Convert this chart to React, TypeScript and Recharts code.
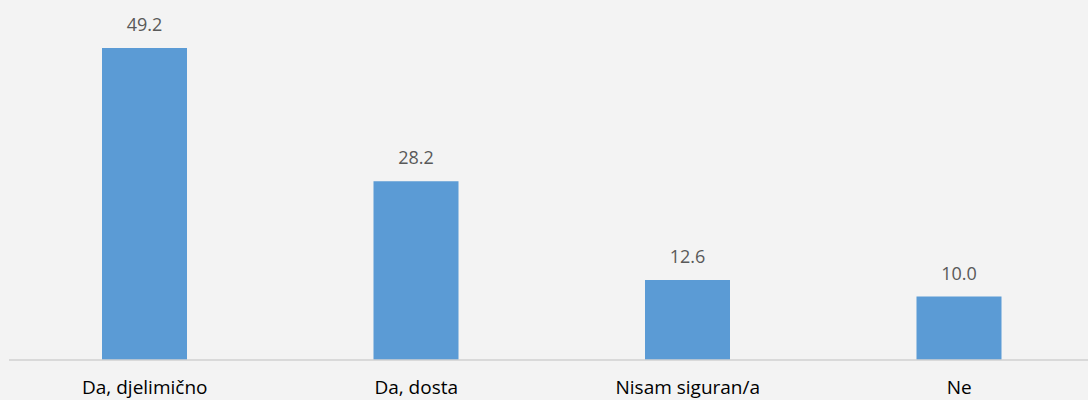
import { BarChart, Bar, XAxis, YAxis, LabelList } from "recharts";

const categories = ["Da, djelimično", "Da, dosta", "Nisam siguran/a", "Ne"];
const values = [49.2, 28.2, 12.6, 10.0];

const data = categories.map((c, i) => ({ name: c, value: values[i] }));

export default function App() {
  return (
    <div
      style={{
        position: "absolute",
        left: 0,
        top: 0,
        width: 1088,
        height: 400,
        overflow: "hidden",
        background: "#f3f3f3",
        fontFamily: "'Open Sans', sans-serif",
      }}
    >
      <BarChart
        width={1095}
        height={400}
        data={data}
        margin={{ top: 43, right: 0, left: 9, bottom: 0 }}
      >
        <XAxis
          dataKey="name"
          height={40}
          axisLine={{ stroke: "#d0d0d0", strokeWidth: 1.5 }}
          tickLine={false}
          tick={{ fill: "#000000", fontSize: 19 }}
          tickMargin={15}
          interval={0}
        />
        <YAxis hide domain={[0, 50]} />
        <Bar dataKey="value" fill="#5b9bd5" barSize={85} isAnimationActive={false}>
          <LabelList
            dataKey="value"
            position="top"
            offset={17}
            fill="#595959"
            fontSize={18}
            formatter={(v: number) => v.toFixed(1)}
          />
        </Bar>
      </BarChart>
    </div>
  );
}
